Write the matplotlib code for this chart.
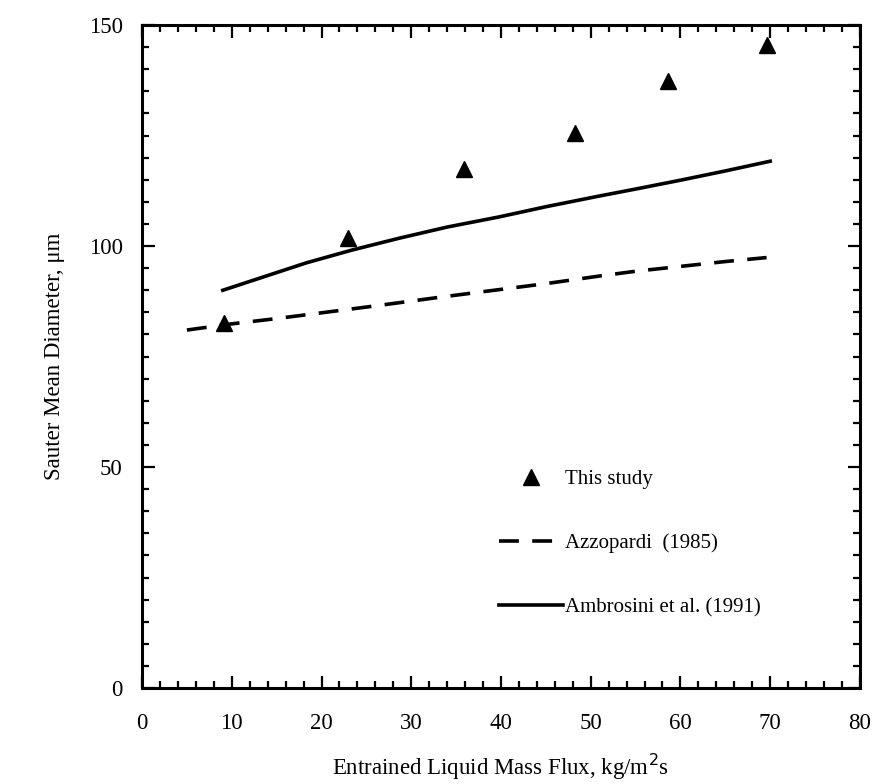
import numpy as np
from matplotlib import pyplot as plt
from matplotlib.ticker import MultipleLocator

plt.rcParams['font.family'] = ['Liberation Serif', 'DejaVu Serif']

# measured points (This study)
flux_pts = [9.1, 22.9, 35.9, 48.3, 58.6, 69.7]
d32_pts = [82.5, 101.8, 117.5, 125.6, 137.3, 145.5]

# Azzopardi (1985) correlation curve
flux_azz = [5, 10, 15, 20, 25, 28.7, 33.1, 40, 45, 50.9, 55, 60, 65, 69.6]
d32_azz = [81.0, 82.4, 83.6, 84.9, 86.2, 87.2, 88.4, 90.2, 91.5, 93.2, 94.3, 95.4, 96.5, 97.4]

# Ambrosini et al. (1991) correlation curve
flux_amb = [9.0, 12, 15, 18.3, 23.4, 28.7, 34, 39.8, 45, 50.9, 55, 60, 65, 70]
d32_amb = [90.0, 92.0, 94.0, 96.2, 99.1, 101.8, 104.3, 106.6, 108.9, 111.3, 112.9, 114.9, 117.0, 119.2]

fig = plt.figure(figsize=(8.73, 7.84), dpi=100)
ax = fig.add_axes([0.1627, 0.1224, 0.8223, 0.8456])

lw = 2.6
ax.plot(flux_pts, d32_pts, linestyle='none', marker='^', markersize=11,
        color='black', label='This study')
ax.plot(flux_azz, d32_azz, color='black', linewidth=lw, dashes=(5.5, 3.7),
        label='Azzopardi  (1985)')
ax.plot(flux_amb, d32_amb, color='black', linewidth=lw, linestyle='-',
        label='Ambrosini et al. (1991)')

ax.set_xlim(0, 80)
ax.set_ylim(0, 150)
ax.xaxis.set_major_locator(MultipleLocator(10))
ax.xaxis.set_minor_locator(MultipleLocator(2))
ax.yaxis.set_major_locator(MultipleLocator(50))
ax.yaxis.set_minor_locator(MultipleLocator(5))

for s in ax.spines.values():
    s.set_linewidth(2.2)
ax.tick_params(which='both', direction='in', top=True, right=True, width=1.6)
ax.tick_params(which='major', length=9)
ax.tick_params(which='minor', length=5)
ax.tick_params(axis='x', which='major', pad=18, labelsize=16.5)
ax.tick_params(axis='y', which='major', pad=14, labelsize=16.5)

ax.set_xlabel('Entrained Liquid Mass Flux, kg/m$^2$s', fontsize=16.5, labelpad=13)
ax.set_ylabel('Sauter Mean Diameter, \u03bcm', fontsize=16.5, labelpad=17)

ax.legend(loc='upper left', bbox_to_anchor=(0.497, 0.33), frameon=False,
          fontsize=15, labelspacing=2.15, handlelength=3.1, handletextpad=0.1,
          borderpad=0, borderaxespad=0, numpoints=1)

plt.savefig('out.png', dpi=100)
plt.close()
